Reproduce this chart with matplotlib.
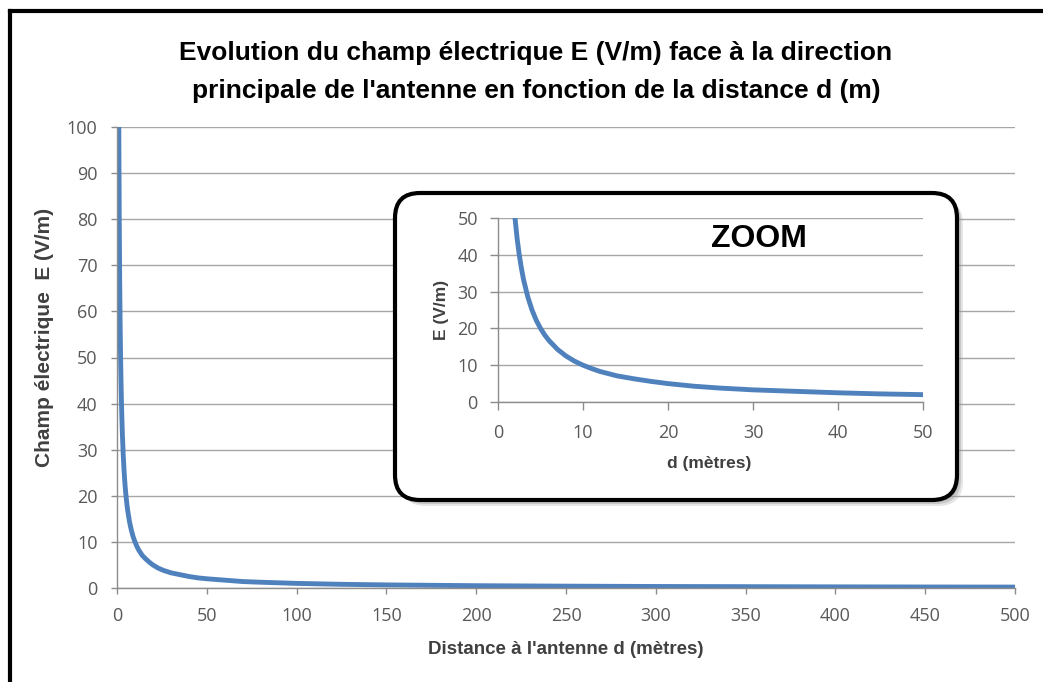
import matplotlib
matplotlib.use('Agg')
import matplotlib.pyplot as plt
from matplotlib.patches import FancyBboxPatch
from matplotlib.lines import Line2D

W, H = 1043, 682
TEXT_COLOR = '#404040'
TICK_COLOR = '#595959'
AXIS_COLOR = '#8C8C8C'
GRID_COLOR = '#A6A6A6'
LINE_COLOR = '#4F81BD'
BOLD_FONT = ['Liberation Sans', 'DejaVu Sans']
TICK_FONT = ['Open Sans', 'DejaVu Sans']

# distance d (m) and field E (V/m)
distance = [1, 1.25, 1.5, 1.75, 2, 2.25, 2.5, 2.75, 3, 3.5, 4, 4.5, 5, 5.5, 6, 7, 8, 9,
            10, 11, 12, 14, 16, 18, 20, 23, 26, 30, 35, 40, 45, 50, 60, 70, 80, 100,
            125, 150, 200, 250, 300, 350, 400, 450, 500]
field = [100, 80, 66.7, 57.1, 50, 44.4, 40, 36.4, 33.3, 28.6, 25, 22.2, 20, 18.2, 16.7,
         14.3, 12.5, 11.1, 10, 9.1, 8.3, 7.1, 6.3, 5.6, 5, 4.3, 3.8, 3.3, 2.9, 2.5, 2.2,
         2, 1.7, 1.4, 1.25, 1, 0.8, 0.67, 0.5, 0.4, 0.33, 0.29, 0.25, 0.22, 0.2]

main_xticks = [0, 50, 100, 150, 200, 250, 300, 350, 400, 450, 500]
main_yticks = [0, 10, 20, 30, 40, 50, 60, 70, 80, 90, 100]
zoom_xticks = [0, 10, 20, 30, 40, 50]
zoom_yticks = [0, 10, 20, 30, 40, 50]

title = "Evolution du champ électrique E (V/m) face à la direction\nprincipale de l'antenne en fonction de la distance d (m)"


def px_axes(left, right, top, bottom):
    return [left / W, (H - bottom) / H, (right - left) / W, (bottom - top) / H]


def style_axes(ax, xticks, yticks, ticklen, xpad, ypad):
    ax.set_xticks(xticks)
    ax.set_yticks(yticks)
    ax.set_xlim(xticks[0], xticks[-1])
    ax.set_ylim(yticks[0], yticks[-1])
    ax.grid(axis='y', color=GRID_COLOR, linewidth=1)
    ax.set_axisbelow(True)
    for side in ['top', 'right']:
        ax.spines[side].set_visible(False)
    for side in ['left', 'bottom']:
        ax.spines[side].set_color(AXIS_COLOR)
        ax.spines[side].set_linewidth(1)
    ax.tick_params(length=ticklen, width=1, color=AXIS_COLOR, labelcolor=TICK_COLOR,
                   labelsize=13)
    ax.tick_params(axis='x', pad=xpad)
    ax.tick_params(axis='y', pad=ypad)
    for lab in ax.get_xticklabels() + ax.get_yticklabels():
        lab.set_family(TICK_FONT)


fig = plt.figure(figsize=(W / 100, H / 100), dpi=100)

# main chart
ax = fig.add_axes(px_axes(117, 1015, 127, 588))
ax.plot(distance, field, color=LINE_COLOR, linewidth=3.5, solid_capstyle='butt')
style_axes(ax, main_xticks, main_yticks, 4.5, 9.5, 9.5)
ax.set_xlabel("Distance à l'antenne d (mètres)", family=BOLD_FONT, fontweight='bold',
              fontsize=13.5, color=TEXT_COLOR, va='top')
ax.xaxis.set_label_coords(0.5, (588 - 641) / 461)
ax.set_ylabel("Champ électrique  E (V/m)", family=BOLD_FONT, fontweight='bold',
              fontsize=15, color=TEXT_COLOR)
ax.yaxis.set_label_coords((54 - 117) / 898, (588 - 337) / 461)
fig.text(536 / W, 1 - 72 / H, title, ha='center', va='center', family=BOLD_FONT,
         fontweight='bold', fontsize=19, color='black', linespacing=1.75)

# rounded box of the zoom, with a soft shadow
for dx, alpha in [(0.06, 0.25), (0.04, 0.4), (0.02, 0.5)]:
    fig.patches.append(FancyBboxPatch((3.95 + dx, 1.82 - dx), 5.62, 3.07,
                                      boxstyle='round,pad=0,rounding_size=0.25',
                                      transform=fig.dpi_scale_trans, facecolor='#9A9A9A',
                                      edgecolor='none', alpha=alpha, zorder=1))
fig.patches.append(FancyBboxPatch((3.95, 1.82), 5.62, 3.07,
                                  boxstyle='round,pad=0,rounding_size=0.25',
                                  transform=fig.dpi_scale_trans, facecolor='white',
                                  edgecolor='black', linewidth=3, zorder=1.1))

# zoom chart
axz = fig.add_axes(px_axes(498, 923, 218, 402), zorder=2)
axz.patch.set_alpha(0)
axz.plot(distance, field, color=LINE_COLOR, linewidth=3.5, solid_capstyle='butt')
style_axes(axz, zoom_xticks, zoom_yticks, 5.5, 10.5, 9)
axz.set_xlabel("d (mètres)", family=BOLD_FONT, fontweight='bold', fontsize=12.5,
               color=TEXT_COLOR, va='top')
axz.xaxis.set_label_coords((709 - 498) / 425, (402 - 456) / 184)
axz.set_ylabel("E (V/m)", family=BOLD_FONT, fontweight='bold', fontsize=12.5,
               color=TEXT_COLOR)
axz.yaxis.set_label_coords((449 - 498) / 425, (402 - 310) / 184)
fig.text(759 / W, 1 - 239 / H, "ZOOM", ha='center', va='center', family=BOLD_FONT,
         fontweight='bold', fontsize=23, color='black', zorder=3)

# black frame on top and left edges
fig.add_artist(Line2D([10 / W, 1], [1 - 11 / H, 1 - 11 / H], color='black',
                      linewidth=3, transform=fig.transFigure, solid_capstyle='projecting'))
fig.add_artist(Line2D([10 / W, 10 / W], [0, 1 - 11 / H], color='black',
                      linewidth=3, transform=fig.transFigure, solid_capstyle='projecting'))

fig.savefig('out.png', dpi=100)
